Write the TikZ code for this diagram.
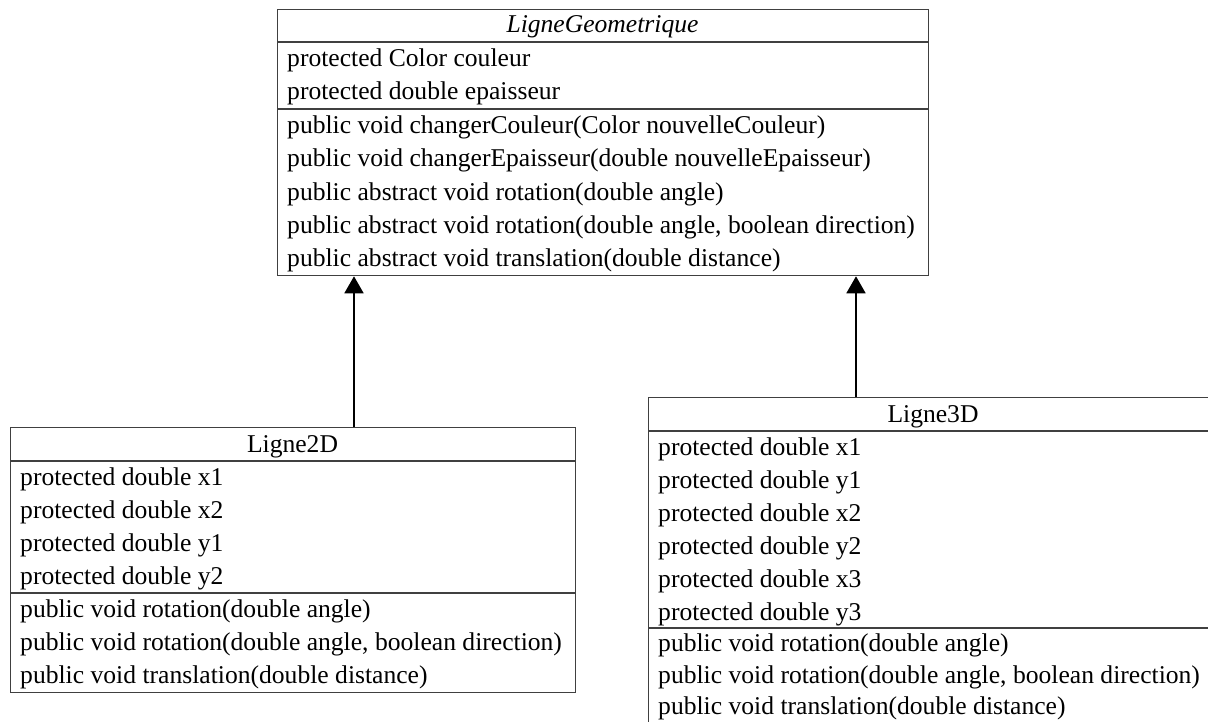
\documentclass[tikz,border=0pt]{standalone}
\usepackage{fontspec}
\setmainfont{Liberation Serif}
\usetikzlibrary{arrows.meta}

\tikzset{
  classbox/.style={draw=black!75, line width=1.3pt, rectangle, inner sep=0pt, anchor=north west},
  sepline/.style={draw=black!75, line width=1.3pt},
  member/.style={anchor=base west, inner sep=0pt, font=\fontsize{25.6}{30}\selectfont},
  ctitle/.style={anchor=base, inner sep=0pt, font=\fontsize{25.6}{30}\selectfont},
  inherit/.style={draw=black, line width=1.8pt, -{Triangle[length=17pt,width=19pt]}},
}

\begin{document}
\begin{tikzpicture}[x=1pt, y=-1pt]
  \clip (0,0) rectangle (1208,722);
  \fill[white] (0,0) rectangle (1208,722);

  % abstract base class
  \node[classbox, minimum width=651pt, minimum height=266pt] (geo) at (277,9) {};
  \draw[sepline] ([yshift=-33pt]geo.north west) -- ([yshift=-33pt]geo.north east);
  \draw[sepline] ([yshift=-100pt]geo.north west) -- ([yshift=-100pt]geo.north east);
  \node[ctitle] (geoT) at (602.5,33) {\itshape LigneGeometrique};
  \node[member] (geoA1) at (287,66.5) {protected Color couleur};
  \node[member] (geoA2) at (287,100) {protected double epaisseur};
  \node[member] (geoM1) at (287,133.5) {public void changerCouleur(Color nouvelleCouleur)};
  \node[member] (geoM2) at (287,166.8) {public void changerEpaisseur(double nouvelleEpaisseur)};
  \node[member] (geoM3) at (287,200.1) {public abstract void rotation(double angle)};
  \node[member] (geoM4) at (287,233.4) {public abstract void rotation(double angle, boolean direction)};
  \node[member] (geoM5) at (287,266.7) {public abstract void translation(double distance)};

  % 2D line class
  \node[classbox, minimum width=565pt, minimum height=265pt] (l2d) at (10,427) {};
  \draw[sepline] ([yshift=-34pt]l2d.north west) -- ([yshift=-34pt]l2d.north east);
  \draw[sepline] ([yshift=-166pt]l2d.north west) -- ([yshift=-166pt]l2d.north east);
  \node[ctitle] (l2dT) at (292.5,452) {Ligne2D};
  \node[member] (l2dA1) at (20,485.5) {protected double x1};
  \node[member] (l2dA2) at (20,518.5) {protected double x2};
  \node[member] (l2dA3) at (20,551.5) {protected double y1};
  \node[member] (l2dA4) at (20,584.5) {protected double y2};
  \node[member] (l2dM1) at (20,617.5) {public void rotation(double angle)};
  \node[member] (l2dM2) at (20,650.5) {public void rotation(double angle, boolean direction)};
  \node[member] (l2dM3) at (20,683.5) {public void translation(double distance)};

  % 3D line class (runs past the right and bottom edges)
  \node[classbox, minimum width=570pt, minimum height=331pt] (l3d) at (648,397) {};
  \draw[sepline] ([yshift=-34pt]l3d.north west) -- ([yshift=-34pt]l3d.north east);
  \draw[sepline] ([yshift=-231pt]l3d.north west) -- ([yshift=-231pt]l3d.north east);
  \node[ctitle] (l3dT) at (933,422) {Ligne3D};
  \node[member] (l3dA1) at (658,455.5) {protected double x1};
  \node[member] (l3dA2) at (658,488.5) {protected double y1};
  \node[member] (l3dA3) at (658,521.5) {protected double x2};
  \node[member] (l3dA4) at (658,554.5) {protected double y2};
  \node[member] (l3dA5) at (658,587.5) {protected double x3};
  \node[member] (l3dA6) at (658,620.5) {protected double y3};
  \node[member] (l3dM1) at (658,651.5) {public void rotation(double angle)};
  \node[member] (l3dM2) at (658,683) {public void rotation(double angle, boolean direction)};
  \node[member] (l3dM3) at (658,714) {public void translation(double distance)};

  % inheritance arrows
  \coordinate (lx) at (354,0);
  \coordinate (rx) at (856,0);
  \draw[inherit] (l2d.north -| lx) -- (geo.south -| lx);
  \draw[inherit] (l3d.north -| rx) -- (geo.south -| rx);
\end{tikzpicture}
\end{document}
